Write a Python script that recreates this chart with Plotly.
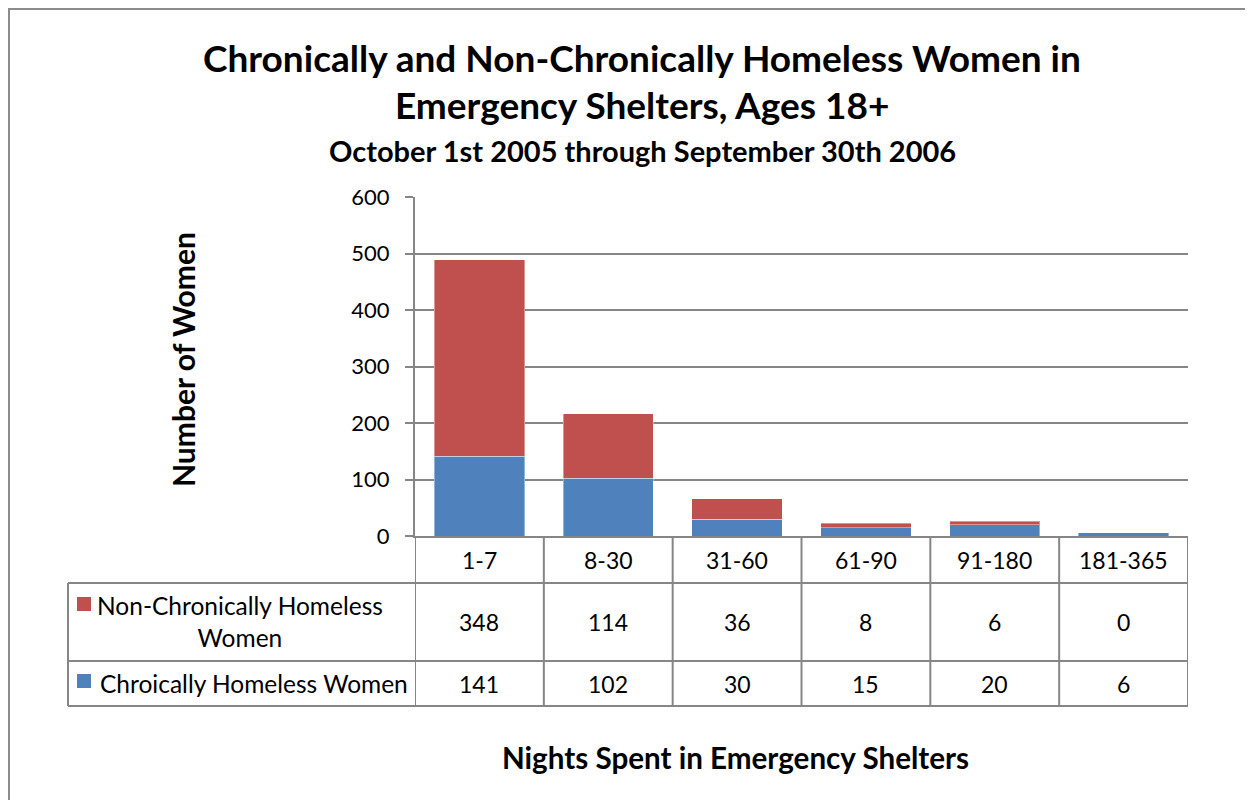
import plotly.graph_objects as go

W, H = 1253, 800
OFF = 8  # page body margin in the browser

categories = ["1-7", "8-30", "31-60", "61-90", "91-180", "181-365"]
chronic = [141, 102, 30, 15, 20, 6]
non_chronic = [348, 114, 36, 8, 6, 0]
chronic_name = "Chroically Homeless Women"
non_chronic_name = "Non-Chronically Homeless<br>Women"

RED = "#C0504D"
BLUE = "#4F81BD"
GRID = "#868686"
FONT = "Lato"


def px(x):
    return (x - OFF) / W


def py(y):
    return 1 - (y - OFF) / H


# table geometry in screen pixels
AXIS_Y = 536
ROW1_TOP = 583
ROW2_TOP = 661
TABLE_BOTTOM = 706
LABEL_LEFT = 68

fig = go.Figure()

fig.add_trace(go.Bar(
    x=categories, y=chronic, name="Chroically Homeless Women",
    marker=dict(color=BLUE, line=dict(color="rgba(255,255,255,0.4)", width=1)),
))
fig.add_trace(go.Bar(
    x=categories, y=non_chronic, name="Non-Chronically Homeless Women",
    marker=dict(color=RED, line=dict(color="rgba(255,255,255,0.4)", width=1)),
))

shapes = []
annotations = []

# outer chart border
shapes.append(dict(type="rect", xref="paper", yref="paper",
                   x0=px(9), x1=px(1249), y0=py(820), y1=py(9),
                   line=dict(color="#8C8C8C", width=2)))

# table horizontal lines
for yy in [ROW1_TOP, ROW2_TOP, TABLE_BOTTOM]:
    shapes.append(dict(type="line", xref="paper", yref="paper",
                       x0=px(LABEL_LEFT), x1=px(1188), y0=py(yy), y1=py(yy),
                       line=dict(color=GRID, width=2)))
# table vertical lines at category boundaries
for i in range(len(categories) + 1):
    shapes.append(dict(type="line", xref="x", yref="paper",
                       x0=i - 0.5, x1=i - 0.5, y0=py(TABLE_BOTTOM), y1=py(AXIS_Y),
                       line=dict(color=GRID, width=2)))
shapes.append(dict(type="line", xref="paper", yref="paper",
                   x0=px(LABEL_LEFT), x1=px(LABEL_LEFT), y0=py(TABLE_BOTTOM), y1=py(ROW1_TOP),
                   line=dict(color=GRID, width=2)))

# legend keys
for yc, col in [(604, RED), (681, BLUE)]:
    shapes.append(dict(type="rect", xref="paper", yref="paper",
                       x0=px(77), x1=px(91), y0=py(yc + 7), y1=py(yc - 7),
                       fillcolor=col, line=dict(width=0)))

cell_font = dict(family=FONT, size=23, color="#000000")
label_font = dict(family=FONT, size=24.5, color="#000000")

annotations.append(dict(text=non_chronic_name, xref="paper", yref="paper",
                        x=px(240), y=py(621), xanchor="center", yanchor="middle",
                        showarrow=False, font=label_font, align="center"))
annotations.append(dict(text=chronic_name, xref="paper", yref="paper",
                        x=px(98), y=py(683), xanchor="left", yanchor="middle",
                        showarrow=False, font=label_font))

for i, cat in enumerate(categories):
    annotations.append(dict(text=cat, xref="x", yref="paper", x=i, y=py(560),
                            showarrow=False, font=cell_font, yanchor="middle"))
    annotations.append(dict(text=str(non_chronic[i]), xref="x", yref="paper", x=i, y=py(622),
                            showarrow=False, font=cell_font, yanchor="middle"))
    annotations.append(dict(text=str(chronic[i]), xref="x", yref="paper", x=i, y=py(684),
                            showarrow=False, font=cell_font, yanchor="middle"))

# titles
title_font = dict(family=FONT, size=37, color="#000000")
sub_font = dict(family=FONT, size=29, color="#000000")
annotations.append(dict(text="<b>Chronically and Non-Chronically Homeless Women in</b>",
                        xref="paper", yref="paper", x=px(642), y=py(57),
                        showarrow=False, font=title_font, yanchor="middle"))
annotations.append(dict(text="<b>Emergency Shelters, Ages 18+</b>",
                        xref="paper", yref="paper", x=px(642), y=py(104),
                        showarrow=False, font=title_font, yanchor="middle"))
annotations.append(dict(text="<b>October 1st 2005 through September 30th 2006</b>",
                        xref="paper", yref="paper", x=px(643), y=py(150),
                        showarrow=False, font=sub_font, yanchor="middle"))
annotations.append(dict(text="<b>Nights Spent in Emergency Shelters</b>",
                        xref="paper", yref="paper", x=px(735), y=py(757),
                        showarrow=False, font=dict(family=FONT, size=29.6, color="#000000"),
                        yanchor="middle"))
annotations.append(dict(text="<b>Number of Women</b>",
                        xref="paper", yref="paper", x=px(183), y=py(360),
                        showarrow=False, textangle=-90,
                        font=dict(family=FONT, size=30, color="#000000"),
                        xanchor="center", yanchor="middle"))

fig.update_layout(
    width=W, height=H,
    margin=dict(l=0, r=0, t=0, b=0, pad=0),
    paper_bgcolor="white", plot_bgcolor="white",
    barmode="stack", bargap=0.3,
    showlegend=False,
    font=dict(family=FONT, size=23, color="#000000"),
    shapes=shapes, annotations=annotations,
    xaxis=dict(domain=[px(415), px(1188)], showticklabels=False, ticks="",
               showgrid=False, showline=True, linecolor=GRID, linewidth=2,
               range=[-0.5, 5.5], automargin=False, fixedrange=True),
    yaxis=dict(domain=[py(536), py(197)], range=[0, 600], dtick=100,
               showgrid=True, gridcolor=GRID, gridwidth=1.5,
               showline=True, linecolor=GRID, linewidth=2,
               ticks="outside", ticklen=8, tickcolor=GRID, tickwidth=2,
               ticklabelstandoff=11,
               tickfont=dict(family=FONT, size=22, color="#000000"),
               zeroline=False, automargin=False, fixedrange=True),
)

fig.write_html("out.html")
